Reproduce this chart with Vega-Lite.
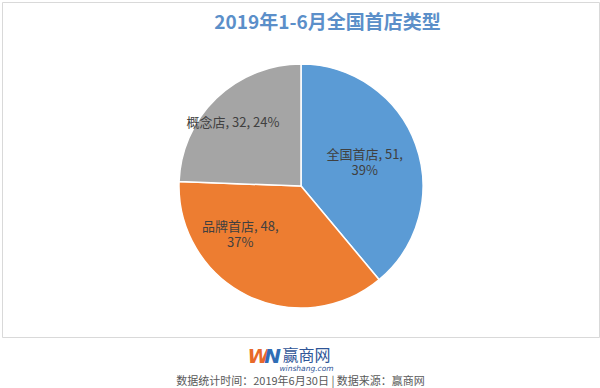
{
  "$schema": "https://vega.github.io/schema/vega-lite/v6.json",
  "padding": {"left": 1, "top": 1, "right": 2, "bottom": 0},
  "background": "white",
  "spacing": 0,
  "config": {
    "font": "Noto Sans CJK SC",
    "view": {"stroke": null}
  },
  "datasets": {
    "pie": [
      {"type": "全国首店", "count": 51, "rank": 1, "label": "全国首店, 51,\n39%"},
      {"type": "品牌首店", "count": 48, "rank": 2, "label": "品牌首店, 48,\n37%"},
      {"type": "概念店", "count": 32, "rank": 3, "label": "概念店, 32, 24%"}
    ],
    "footer": [
      {"part": "W", "text": "W"},
      {"part": "N", "text": "N"},
      {"part": "name", "text": "赢商网"},
      {"part": "url", "text": "winshang.com"},
      {"part": "source", "text": "数据统计时间：2019年6月30日 | 数据来源：赢商网"}
    ]
  },
  "vconcat": [
    {
      "width": 597,
      "height": 335,
      "view": {"stroke": "#d9d9d9", "strokeWidth": 1},
      "title": {
        "text": "2019年1-6月全国首店类型",
        "fontSize": 19,
        "fontWeight": "bold",
        "color": "#5B8FC9",
        "anchor": "middle",
        "dx": 27,
        "offset": -31
      },
      "data": {"name": "pie"},
      "layer": [
        {
          "mark": {"type": "arc", "radius": 122, "stroke": "white", "strokeWidth": 1.5, "yOffset": 16.5, "xOffset": 0.5},
          "encoding": {
            "theta": {"field": "count", "type": "quantitative", "stack": true},
            "order": {"field": "rank", "type": "quantitative"},
            "color": {
              "field": "type",
              "type": "nominal",
              "scale": {"domain": ["全国首店", "品牌首店", "概念店"], "range": ["#5B9BD5", "#ED7D31", "#A5A5A5"]},
              "legend": null
            }
          }
        },
        {
          "mark": {"type": "text", "radius": 72, "fontSize": 13, "color": "#404040", "lineBreak": "\n", "lineHeight": 16, "yOffset": 10.5, "xOffset": -3.5},
          "encoding": {
            "theta": {"field": "count", "type": "quantitative", "stack": true},
            "order": {"field": "rank", "type": "quantitative"},
            "text": {"condition": {"test": "datum.rank === 1", "field": "label"}, "value": ""}
          }
        },
        {
          "mark": {"type": "text", "radius": 72, "fontSize": 13, "color": "#404040", "lineBreak": "\n", "lineHeight": 16, "yOffset": -7.5, "xOffset": -28.5},
          "encoding": {
            "theta": {"field": "count", "type": "quantitative", "stack": true},
            "order": {"field": "rank", "type": "quantitative"},
            "text": {"condition": {"test": "datum.rank === 2", "field": "label"}, "value": ""}
          }
        },
        {
          "mark": {"type": "text", "radius": 72, "fontSize": 13, "color": "#404040", "lineBreak": "\n", "lineHeight": 16, "yOffset": 5.5, "xOffset": -17.5},
          "encoding": {
            "theta": {"field": "count", "type": "quantitative", "stack": true},
            "order": {"field": "rank", "type": "quantitative"},
            "text": {"condition": {"test": "datum.rank === 3", "field": "label"}, "value": ""}
          }
        }
      ]
    },
    {
      "width": 597,
      "height": 52,
      "data": {"name": "footer"},
      "layer": [
        {
          "transform": [{"filter": "datum.part === 'W'"}],
          "mark": {"type": "text", "fontSize": 20, "fontWeight": "bold", "fontStyle": "italic", "color": "#E8692A", "dx": -42, "dy": -7, "font": "DejaVu Sans"},
          "encoding": {"text": {"field": "text", "type": "nominal"}}
        },
        {
          "transform": [{"filter": "datum.part === 'N'"}],
          "mark": {"type": "text", "fontSize": 20, "fontWeight": "bold", "fontStyle": "italic", "color": "#2F6DB5", "dx": -28, "dy": -7, "font": "DejaVu Sans"},
          "encoding": {"text": {"field": "text", "type": "nominal"}}
        },
        {
          "transform": [{"filter": "datum.part === 'name'"}],
          "mark": {"type": "text", "fontSize": 16, "color": "#2F5597", "dx": 6, "dy": -8},
          "encoding": {"text": {"field": "text", "type": "nominal"}}
        },
        {
          "transform": [{"filter": "datum.part === 'url'"}],
          "mark": {"type": "text", "fontSize": 7.5, "fontStyle": "italic", "color": "#2F5597", "dx": 6, "dy": 4.5, "font": "DejaVu Sans"},
          "encoding": {"text": {"field": "text", "type": "nominal"}}
        },
        {
          "transform": [{"filter": "datum.part === 'source'"}],
          "mark": {"type": "text", "fontSize": 11, "color": "#595959", "dy": 18},
          "encoding": {"text": {"field": "text", "type": "nominal"}}
        }
      ]
    }
  ]
}
